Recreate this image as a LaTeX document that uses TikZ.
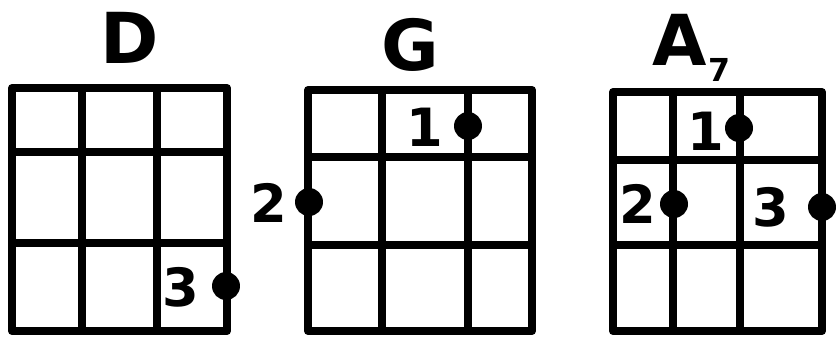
\documentclass[tikz,border=0pt]{standalone}
\usepackage{fontspec}
\setmainfont{DejaVu Sans}
\usetikzlibrary{positioning}

\tikzset{
  fret/.style={line width=4.5pt, line cap=round, line join=round},
  fingerdot/.style={circle, fill=black, inner sep=0pt, minimum size=0.56cm},
  fingernum/.style={font=\fontsize{30}{30}\selectfont\bfseries, inner sep=0pt},
  chordname/.style={font=\fontsize{40}{40}\selectfont\bfseries, inner sep=0pt}
}

\begin{document}
\begin{tikzpicture}[x=0.02cm, y=-0.02cm]
  \useasboundingbox (0,0) rectangle (836,336);

  % D chord
  \node[chordname] (nameD) at (130,38) {D};
  \draw[fret] (12,88) rectangle (227,331);
  \draw[fret] (82,88) -- (82,331) (157,88) -- (157,331);
  \draw[fret] (12,152) -- (227,152) (12,243) -- (227,243);
  \node[fingernum] (numDiii) at (181,287) {3};
  \node[fingerdot] (dotDiii) at (226,286) {};

  % G chord
  \node[chordname] (nameG) at (410,45) {G};
  \draw[fret] (308,90) rectangle (532,331);
  \draw[fret] (382,90) -- (382,331) (468,90) -- (468,331);
  \draw[fret] (308,157) -- (532,157) (308,245) -- (532,245);
  \node[fingernum] (numGi) at (425,127) {1};
  \node[fingerdot] (dotGi) at (468,126) {};
  \node[fingernum] (numGii) at (269,203) {2};
  \node[fingerdot] (dotGii) at (309,202) {};

  % A7 chord
  \node[chordname] (nameA) at (680,40) {A};
  \node[font=\fontsize{18}{18}\selectfont\bfseries, inner sep=0pt] (nameAvii) at (719,70) {7};
  \draw[fret] (613,92) rectangle (822,331);
  \draw[fret] (673,92) -- (673,331) (740,92) -- (740,331);
  \draw[fret] (613,160) -- (822,160) (613,245) -- (822,245);
  \node[fingernum] (numAi) at (706,131) {1};
  \node[fingerdot] (dotAi) at (739,128) {};
  \node[fingernum] (numAii) at (638,204) {2};
  \node[fingerdot] (dotAii) at (674,204) {};
  \node[fingernum] (numAiii) at (771,207) {3};
  \node[fingerdot] (dotAiii) at (822,207) {};
\end{tikzpicture}
\end{document}
